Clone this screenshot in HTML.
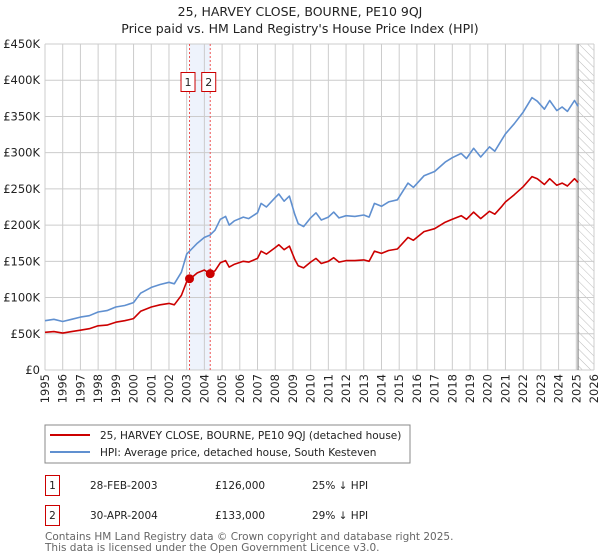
<!DOCTYPE html>
<html><head><meta charset="utf-8"><style>
body{margin:0;background:#fff;}
svg{display:block;font-family:"DejaVu Sans","Liberation Sans",sans-serif;}
</style></head><body>
<svg id="chart" width="600" height="560" viewBox="0 0 600 560">
<defs>
<pattern id="hatch" width="6" height="6" patternUnits="userSpaceOnUse" patternTransform="rotate(-45)">
<line x1="0" y1="0" x2="0" y2="6" stroke="#bbb" stroke-width="1"/>
</pattern>
</defs>
<text x="300" y="16" text-anchor="middle" font-size="12.5" fill="#222">25, HARVEY CLOSE, BOURNE, PE10 9QJ</text>
<text x="300" y="33" text-anchor="middle" font-size="12.5" fill="#222">Price paid vs. HM Land Registry's House Price Index (HPI)</text>
<g id="grid"></g>
<g id="marks"></g>
<g id="legend">
<rect x="45" y="425" width="365" height="38" fill="#fff" stroke="#888"/>
<line x1="50" y1="435" x2="90" y2="435" stroke="#cc0000" stroke-width="2"/>
<text x="100" y="439" font-size="10.5" fill="#222">25, HARVEY CLOSE, BOURNE, PE10 9QJ (detached house)</text>
<line x1="50" y1="452" x2="90" y2="452" stroke="#6090d0" stroke-width="2"/>
<text x="100" y="456" font-size="10.5" fill="#222">HPI: Average price, detached house, South Kesteven</text>
</g>
<g font-size="10.5" fill="#222">
<rect x="45.5" y="475.5" width="14" height="20" fill="none" stroke="#cc0000"/>
<text x="52.5" y="489" text-anchor="middle">1</text>
<text x="90" y="489">28-FEB-2003</text>
<text x="215" y="489">£126,000</text>
<text x="312" y="489">25% ↓ HPI</text>
<rect x="45.5" y="505.5" width="14" height="20" fill="none" stroke="#cc0000"/>
<text x="52.5" y="519" text-anchor="middle">2</text>
<text x="90" y="519">30-APR-2004</text>
<text x="215" y="519">£133,000</text>
<text x="312" y="519">29% ↓ HPI</text>
</g>
<text x="45" y="540" font-size="10.5" fill="#666">Contains HM Land Registry data © Crown copyright and database right 2025.</text>
<text x="45" y="551" font-size="10.5" fill="#666">This data is licensed under the Open Government Licence v3.0.</text>
</svg>
<script>
const years=[1995.0,1995.5,1996.0,1996.5,1997.0,1997.5,1998.0,1998.5,1999.0,1999.5,2000.0,2000.4,2001.0,2001.5,2002.0,2002.3,2002.7,2003.0,2003.2,2003.6,2004.0,2004.3,2004.6,2004.9,2005.2,2005.4,2005.7,2006.2,2006.5,2007.0,2007.2,2007.5,2008.0,2008.2,2008.5,2008.8,2009.1,2009.3,2009.6,2010.0,2010.3,2010.6,2011.0,2011.3,2011.6,2012.0,2012.5,2013.0,2013.3,2013.6,2014.0,2014.4,2014.9,2015.5,2015.8,2016.4,2017.0,2017.6,2018.0,2018.5,2018.8,2019.2,2019.6,2020.1,2020.4,2020.8,2021.0,2021.5,2022.0,2022.5,2022.8,2023.2,2023.5,2023.9,2024.2,2024.5,2024.9,2025.1];
const hpiValues=[68,70,67,70,73,75,80,82,87,89,93,106,114,118,121,119,135,160,165,175,183,186,193,208,212,200,206,211,209,217,230,225,238,243,233,240,215,202,198,210,217,207,211,218,210,213,212,214,211,230,226,232,235,258,252,268,274,287,293,299,292,306,294,308,302,318,326,340,356,376,371,360,372,358,363,357,372,364];
const priceValues=[52,53,51,53,55,57,61,62,66,68,71,81,87,90,92,90,103,122,126,134,138,133,137,148,151,142,146,150,149,154,164,160,169,173,166,171,153,144,141,149,154,147,150,155,149,151,151,152,150,164,161,165,167,183,179,191,195,204,208,213,208,218,209,219,215,226,232,242,253,267,264,256,264,255,258,254,264,259];
const saleDates=[2003.16,2004.33];
const salePrices=[126,133];
const saleLabels=["1","2"];
const yTicks=[0,50,100,150,200,250,300,350,400,450];
const yTickLabels=["£0","£50K","£100K","£150K","£200K","£250K","£300K","£350K","£400K","£450K"];
const xTicks=[1995,1996,1997,1998,1999,2000,2001,2002,2003,2004,2005,2006,2007,2008,2009,2010,2011,2012,2013,2014,2015,2016,2017,2018,2019,2020,2021,2022,2023,2024,2025,2026];
const forecastStart=2025.1;

const X0=45,X1=594,Y0=370,Y1=44;
const xs=y=>X0+(y-1995)/(2026-1995)*(X1-X0);
const ys=v=>Y0-v/450*(Y0-Y1);
const NS="http://www.w3.org/2000/svg";
function mk(tag,attrs,parent){const e=document.createElementNS(NS,tag);for(const k in attrs)e.setAttribute(k,attrs[k]);parent.appendChild(e);return e;}
const grid=document.getElementById('grid'),marks=document.getElementById('marks');

// sale band
const band=mk('rect',{x:xs(saleDates[0]),y:Y1,width:xs(saleDates[1])-xs(saleDates[0]),height:Y0-Y1,fill:'#eef3fc'},grid);


// forecast hatch
const hatch=mk('rect',{x:xs(forecastStart),y:Y1,width:X1-xs(forecastStart),height:Y0-Y1,fill:'url(#hatch)'},grid);



yTicks.forEach((t,i)=>{
 const l=mk('line',{x1:X0,x2:X1,y1:ys(t),y2:ys(t),stroke:'#cccccc','stroke-width':1},grid);
 
 
 const tx=mk('text',{x:40,y:ys(t)+4,'text-anchor':'end','font-size':11.5,fill:'#222'},grid);
 tx.textContent=yTickLabels[i];
 
 
});
xTicks.forEach(t=>{
 const l=mk('line',{x1:xs(t),x2:xs(t),y1:Y1,y2:Y0,stroke:'#cccccc','stroke-width':1},grid);
 
 
 const tx=mk('text',{x:0,y:0,'text-anchor':'end','font-size':11.5,fill:'#222',transform:`translate(${xs(t)+4},${Y0+4}) rotate(-90)`},grid);
 tx.textContent=t;
 
 
});
const fl=mk('line',{x1:xs(forecastStart),x2:xs(forecastStart),y1:Y1,y2:Y0,stroke:'#888','stroke-width':1.2},grid);



saleDates.forEach((d,i)=>{
 const l=mk('line',{x1:xs(d),x2:xs(d),y1:Y1,y2:Y0,stroke:'#ee5555','stroke-width':1,'stroke-dasharray':'2,2'},grid);
 
 
 const cx=xs(d)-1.5;
 const r=mk('rect',{x:cx-7,y:72.5,width:14,height:19,fill:'#fff',stroke:'#cc0000'},grid);
 
 
 const t=mk('text',{x:cx,y:86,'text-anchor':'middle','font-size':11,fill:'#222'},grid);
 t.textContent=saleLabels[i];
 
 
});

function line(vals,color,name){
 const p=mk('polyline',{points:years.map((y,i)=>xs(y).toFixed(1)+','+ys(vals[i]).toFixed(1)).join(' '),fill:'none',stroke:color,'stroke-width':1.6,'stroke-linejoin':'round'},marks);
 
 
}
line(hpiValues,'#6090d0','hpi-line');
line(priceValues,'#cc0000','price-line');
saleDates.forEach((d,i)=>{
 const c=mk('circle',{cx:xs(d),cy:ys(salePrices[i]),r:4.5,fill:'#cc0000'},marks);
 
 
});
</script>
</body></html>
